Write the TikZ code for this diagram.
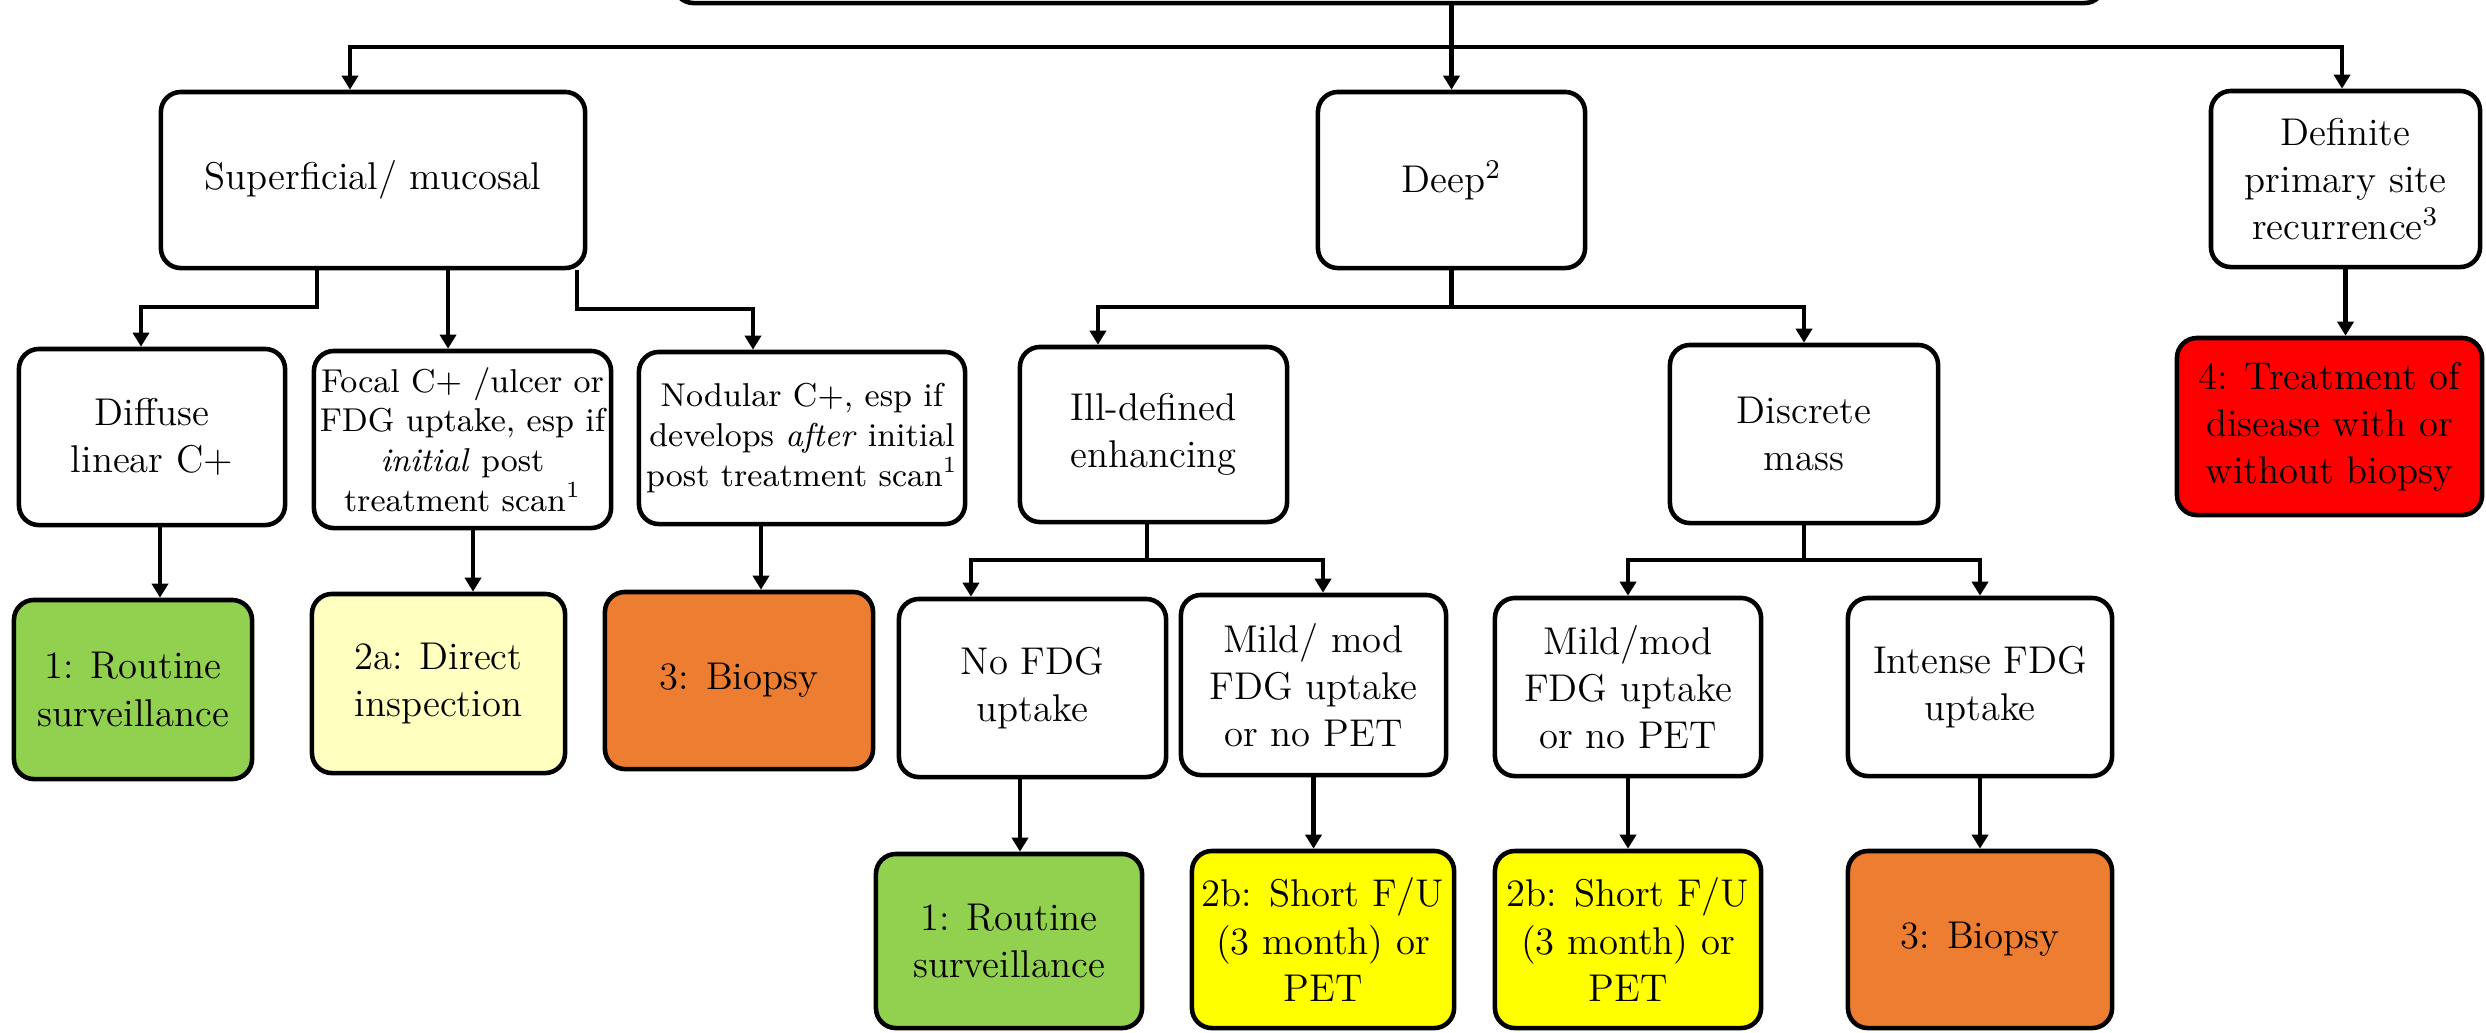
\documentclass[tikz,border=0pt]{standalone}
\usepackage{fontspec}
\usetikzlibrary{arrows.meta}
\definecolor{cgreen}{HTML}{92D050}
\definecolor{cpale}{HTML}{FFFFC0}
\definecolor{corange}{HTML}{ED7D31}
\definecolor{cyellow}{HTML}{FFFF00}
\definecolor{cred}{HTML}{FF0000}
\begin{document}
\begin{tikzpicture}[x=0.01cm,y=-0.01cm,
  box/.style={draw=black, line width=1.3pt, rounded corners=0.2cm, align=center, inner sep=0pt,
    font=\fontsize{11pt}{13.4pt}\selectfont},
  smallbox/.style={box, font=\fontsize{9.4pt}{11.3pt}\selectfont},
  ln/.style={line width=1.25pt},
  arr/.style={line width=1.25pt, -{Triangle[width=0.16cm,length=0.14cm]}},
]
\useasboundingbox (0,0) rectangle (2486,1032);
\clip (0,0) rectangle (2486,1032);

% top (cut-off) box
\node[box, minimum width=14.30cm, minimum height=2cm] (top) at (1389,-97) {};

% level 1
\node[box, minimum width=4.24cm, minimum height=1.76cm] (sup) at (373,180) {Superficial/ mucosal};
\node[box, minimum width=2.67cm, minimum height=1.76cm] (deep) at (1451.5,180) {Deep\textsuperscript{2}};
\node[box, minimum width=2.69cm, minimum height=1.76cm] (def) at (2345.5,179) {Definite\\primary site\\recurrence\textsuperscript{3}};

% level 2
\node[box, minimum width=2.66cm, minimum height=1.76cm] (diff) at (152,437) {Diffuse\\linear C+};
\node[smallbox, minimum width=2.97cm, minimum height=1.77cm] (focal) at (462.5,439.5) {Focal C+ /ulcer or\\FDG uptake, esp if\\\textit{initial} post\\treatment scan\textsuperscript{1}};
\node[smallbox, minimum width=3.26cm, minimum height=1.72cm] (nod) at (802,438) {Nodular C+, esp if\\develops \textit{after} initial\\post treatment scan\textsuperscript{1}};
\node[box, minimum width=2.67cm, minimum height=1.75cm] (ill) at (1153.5,434.5) {Ill-defined\\enhancing};
\node[box, minimum width=2.68cm, minimum height=1.78cm] (disc) at (1804,434) {Discrete\\mass};
\node[box, fill=cred, minimum width=3.05cm, minimum height=1.77cm] (red) at (2329.5,426.5) {4: Treatment of\\disease with or\\without biopsy};

% level 3
\node[box, fill=cgreen, minimum width=2.38cm, minimum height=1.79cm] (g1) at (133,689.5) {1: Routine\\surveillance};
\node[box, fill=cpale, minimum width=2.53cm, minimum height=1.79cm] (y2a) at (438.5,683.5) {2a: Direct\\inspection};
\node[box, fill=corange, minimum width=2.68cm, minimum height=1.77cm] (bio1) at (739,680.5) {3: Biopsy};
\node[box, minimum width=2.67cm, minimum height=1.78cm] (nofdg) at (1032.5,688) {No FDG\\uptake};
\node[box, minimum width=2.65cm, minimum height=1.80cm] (mild1) at (1313.5,685) {Mild/ mod\\FDG uptake\\or no PET};
\node[box, minimum width=2.66cm, minimum height=1.78cm] (mild2) at (1628,687) {Mild/mod\\FDG uptake\\or no PET};
\node[box, minimum width=2.64cm, minimum height=1.78cm] (intense) at (1980,687) {Intense FDG\\uptake};

% level 4
\node[box, fill=cgreen, minimum width=2.66cm, minimum height=1.74cm] (g2) at (1009,941) {1: Routine\\surveillance};
\node[box, fill=cyellow, minimum width=2.62cm, minimum height=1.77cm] (yb1) at (1323,939.5) {2b: Short F/U\\(3 month) or\\PET};
\node[box, fill=cyellow, minimum width=2.66cm, minimum height=1.77cm] (yb2) at (1628,939.5) {2b: Short F/U\\(3 month) or\\PET};
\node[box, fill=corange, minimum width=2.64cm, minimum height=1.77cm] (bio2) at (1980,939.5) {3: Biopsy};

% branch levels
\coordinate (h1) at (0,47);
\coordinate (b1) at (0,307);
\coordinate (b2) at (0,309);
\coordinate (b3) at (0,307);
\coordinate (b4) at (0,560);

% top -> level 1
\draw[arr] (top.south -| deep.north) -- (deep.north);
\draw[arr] (deep.north |- h1) -| ([xshift=-0.23cm]sup.north);
\draw[arr] (deep.north |- h1) -| ([xshift=-0.035cm]def.north);

% sup -> children
\draw[arr] ([xshift=-0.56cm]sup.south) |- ([xshift=-0.11cm]diff.north |- b1) -- ([xshift=-0.11cm]diff.north);
\draw[arr] ([xshift=0.75cm]sup.south) -- ([xshift=0.75cm]sup.south |- focal.north);
\draw[arr] ([xshift=2.04cm]sup.south) |- ([xshift=-0.49cm]nod.north |- b2) -- ([xshift=-0.49cm]nod.north);

% deep -> children
\draw[ln] (deep.south) -- (deep.south |- b3);
\draw[arr] (deep.south |- b3) -| ([xshift=-0.555cm]ill.north);
\draw[arr] (deep.south |- b3) -| (disc.north);

% def -> red
\draw[arr] (def.south) -- (def.south |- red.north);

% level 2 -> level 3
\draw[arr] ([xshift=0.08cm]diff.south) -- ([xshift=0.08cm]diff.south |- g1.north);
\draw[arr] ([xshift=0.105cm]focal.south) -- ([xshift=0.105cm]focal.south |- y2a.north);
\draw[arr] ([xshift=-0.41cm]nod.south) -- ([xshift=-0.41cm]nod.south |- bio1.north);

\draw[ln] ([xshift=-0.065cm]ill.south) -- ([xshift=-0.065cm]ill.south |- b4);
\draw[arr] ([xshift=-0.065cm]ill.south |- b4) -| ([xshift=-0.615cm]nofdg.north);
\draw[arr] ([xshift=-0.065cm]ill.south |- b4) -| ([xshift=0.095cm]mild1.north);

\draw[ln] (disc.south) -- (disc.south |- b4);
\draw[arr] (disc.south |- b4) -| (mild2.north);
\draw[arr] (disc.south |- b4) -| (intense.north);

% level 3 -> level 4
\draw[arr] ([xshift=-0.125cm]nofdg.south) -- ([xshift=-0.125cm]nofdg.south |- g2.north);
\draw[arr] (mild1.south) -- (mild1.south |- yb1.north);
\draw[arr] (mild2.south) -- (mild2.south |- yb2.north);
\draw[arr] (intense.south) -- (intense.south |- bio2.north);
\end{tikzpicture}
\end{document}
